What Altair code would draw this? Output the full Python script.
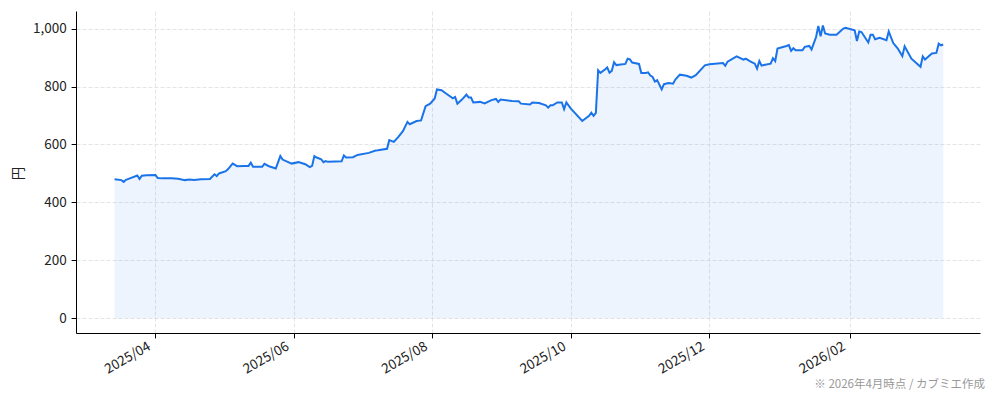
import altair as alt
import pandas as pd

dates = [
    "2025-03-14", "2025-03-17", "2025-03-18", "2025-03-19", "2025-03-21", "2025-03-24", "2025-03-25",
    "2025-03-26", "2025-03-28", "2025-04-01", "2025-04-02", "2025-04-04", "2025-04-08", "2025-04-11",
    "2025-04-14", "2025-04-16", "2025-04-18", "2025-04-21", "2025-04-25", "2025-04-27", "2025-04-28",
    "2025-04-29", "2025-05-02", "2025-05-03", "2025-05-05", "2025-05-07", "2025-05-10", "2025-05-12",
    "2025-05-13", "2025-05-14", "2025-05-18", "2025-05-19", "2025-05-21", "2025-05-24", "2025-05-26",
    "2025-05-27", "2025-05-31", "2025-06-03", "2025-06-06", "2025-06-08", "2025-06-09", "2025-06-10",
    "2025-06-11", "2025-06-13", "2025-06-14", "2025-06-15", "2025-06-16", "2025-06-22", "2025-06-23",
    "2025-06-24", "2025-06-27", "2025-06-29", "2025-07-04", "2025-07-07", "2025-07-08", "2025-07-12",
    "2025-07-13", "2025-07-15", "2025-07-17", "2025-07-19", "2025-07-21", "2025-07-22", "2025-07-25",
    "2025-07-27", "2025-07-29", "2025-07-31", "2025-08-02", "2025-08-03", "2025-08-05", "2025-08-07",
    "2025-08-10", "2025-08-11", "2025-08-12", "2025-08-14", "2025-08-16", "2025-08-17", "2025-08-18",
    "2025-08-19", "2025-08-22", "2025-08-24", "2025-08-27", "2025-08-29", "2025-08-30", "2025-08-31",
    "2025-09-05", "2025-09-08", "2025-09-09", "2025-09-13", "2025-09-14", "2025-09-17", "2025-09-20",
    "2025-09-21", "2025-09-22", "2025-09-23", "2025-09-25", "2025-09-27", "2025-09-28", "2025-09-29",
    "2025-10-01", "2025-10-06", "2025-10-09", "2025-10-10", "2025-10-11", "2025-10-12", "2025-10-13",
    "2025-10-14", "2025-10-16", "2025-10-17", "2025-10-18", "2025-10-19", "2025-10-20", "2025-10-21",
    "2025-10-25", "2025-10-26", "2025-10-27", "2025-10-28", "2025-10-31", "2025-11-01", "2025-11-03",
    "2025-11-04", "2025-11-05", "2025-11-06", "2025-11-07", "2025-11-08", "2025-11-10", "2025-11-11",
    "2025-11-13", "2025-11-15", "2025-11-16", "2025-11-18", "2025-11-21", "2025-11-23", "2025-11-25",
    "2025-11-29", "2025-12-01", "2025-12-07", "2025-12-08", "2025-12-09", "2025-12-13", "2025-12-16",
    "2025-12-17", "2025-12-19", "2025-12-21", "2025-12-22", "2025-12-23", "2025-12-24", "2025-12-25",
    "2025-12-28", "2025-12-29", "2025-12-30", "2025-12-31", "2026-01-04", "2026-01-05", "2026-01-06",
    "2026-01-07", "2026-01-08", "2026-01-11", "2026-01-12", "2026-01-14", "2026-01-15", "2026-01-17",
    "2026-01-18", "2026-01-19", "2026-01-20", "2026-01-21", "2026-01-23", "2026-01-26", "2026-01-29",
    "2026-01-30", "2026-02-03", "2026-02-04", "2026-02-05", "2026-02-06", "2026-02-09", "2026-02-10",
    "2026-02-11", "2026-02-12", "2026-02-14", "2026-02-17", "2026-02-18", "2026-02-20", "2026-02-22",
    "2026-02-24", "2026-02-25", "2026-02-28", "2026-03-04", "2026-03-05", "2026-03-06", "2026-03-09",
    "2026-03-11", "2026-03-12", "2026-03-13", "2026-03-14",
]

prices = [
    480, 477, 471, 478, 484, 493, 481,
    492, 494, 495, 484, 483, 483, 482,
    477, 479, 477, 480, 481, 497, 491,
    500, 508, 515, 534, 525, 526, 526,
    537, 523, 523, 533, 525, 517, 560,
    548, 534, 539, 532, 522, 526, 560,
    555, 549, 539, 543, 540, 542, 562,
    555, 556, 564, 571, 579, 580, 585,
    615, 609, 626, 646, 678, 670, 681,
    683, 732, 741, 759, 790, 787, 776,
    759, 764, 741, 755, 772, 762, 762,
    745, 747, 742, 753, 757, 747, 755,
    750, 749, 741, 738, 745, 743, 735,
    727, 735, 735, 745, 745, 722, 745,
    724, 681, 699, 710, 699, 709, 856,
    847, 859, 866, 848, 854, 884, 874,
    878, 896, 894, 883, 878, 847, 847,
    849, 838, 833, 817, 822, 790, 808,
    812, 810, 824, 841, 837, 831, 839,
    873, 877, 881, 872, 886, 904, 893,
    896, 887, 879, 862, 888, 872, 874,
    879, 898, 888, 931, 940, 943, 923,
    932, 925, 925, 937, 940, 928, 971,
    1009, 973, 1011, 983, 979, 979, 1000,
    1003, 994, 957, 990, 988, 952, 979,
    979, 963, 968, 960, 990, 950, 931,
    905, 939, 896, 868, 904, 893, 914,
    916, 948, 942, 945,
]

tick_months = [(2025, 4), (2025, 6), (2025, 8), (2025, 10), (2025, 12), (2026, 2)]
y_ticks = [0, 200, 400, 600, 800, 1000]
y_title = "円"
note = "※ 2026年4月時点 / カブミエ作成"

df = pd.DataFrame({"date": dates, "price": prices})

W, H = 904, 322
FONT = "Noto Sans CJK JP"
BLUE = "#1a73e8"

x_enc = alt.X(
    "date:T",
    scale=alt.Scale(
        type="utc",
        domain=[
            alt.DateTime(year=2025, month=2, date=25, utc=True),
            alt.DateTime(year=2026, month=3, date=30, hours=5, utc=True),
        ],
        nice=False,
    ),
    axis=alt.Axis(
        values=[alt.DateTime(year=y, month=m, date=1, utc=True) for y, m in tick_months],
        format="%Y/%m",
        labelAngle=330,
        labelAlign="right",
        labelBaseline="top",
        labelOffset=-10,
        labelPadding=1,
        title=None,
    ),
)
y_enc = alt.Y(
    "price:Q",
    scale=alt.Scale(domain=[-50.7, 1060.7], nice=False, zero=False),
    axis=alt.Axis(
        values=y_ticks,
        format=",.0f",
        title=y_title,
        titleAngle=270,
        titleX=-58,
        titleY=162,
        titleAlign="center",
        titleBaseline="middle",
    ),
)

base = alt.Chart(df)
area = base.mark_area(color=BLUE, opacity=0.08).encode(x=x_enc, y=y_enc, y2=alt.datum(0))
line = base.mark_line(color=BLUE, strokeWidth=2).encode(x="date:T", y="price:Q")
foot = alt.Chart(pd.DataFrame({"t": [note]})).mark_text(
    align="right", baseline="middle", fontSize=11.5, color="#999999", font=FONT
).encode(text="t:N", x=alt.value(W + 5), y=alt.value(H + 52))

chart = (
    alt.layer(area, line, foot)
    .properties(
        width=W,
        height=H,
        autosize=alt.AutoSizeParams(type="none"),
        padding={"left": 68, "top": 3, "right": 6, "bottom": 58},
    )
    .configure_view(stroke=None)
    .configure_axis(
        labelFont=FONT,
        titleFont=FONT,
        labelFontSize=13.5,
        titleFontSize=13.5,
        titleFontWeight="normal",
        labelColor="#222222",
        titleColor="#222222",
        domainColor="#000000",
        domainWidth=1,
        tickColor="#000000",
        tickSize=4.9,
        tickWidth=1,
        labelPadding=4.9,
        gridColor="#dddddd",
        gridDash=[4, 2],
        gridWidth=0.8,
    )
)

chart.save("out.html", embed_options={"renderer": "svg", "actions": False})
